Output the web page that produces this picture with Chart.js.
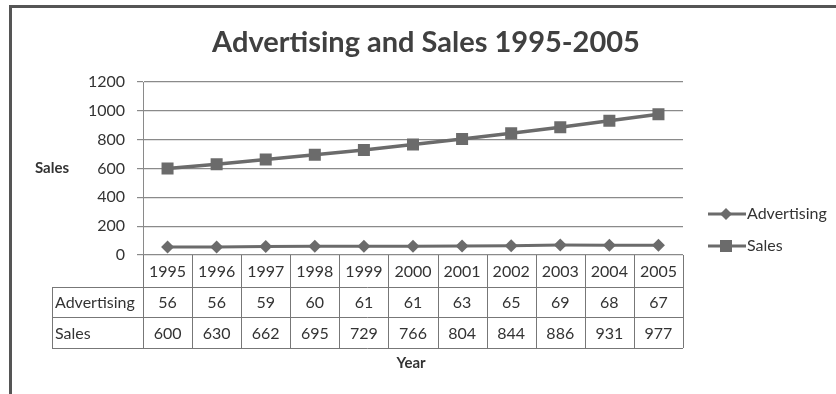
<!DOCTYPE html>
<html lang="en">
<head>
  <meta charset="utf-8"/>
  <title>Advertising and Sales 1995-2005</title>
  <script src="https://cdn.jsdelivr.net/npm/chart.js@4.4.1/dist/chart.umd.min.js"></script>
  <style>
    html, body { margin: 0; padding: 0; background: #fff; }
    #wrap { position: relative; width: 836px; height: 394px; }
  </style>
</head>
<body>
<div id="wrap">
  <canvas id="chart" width="836" height="394"></canvas>
</div>

<script>
const years = ["1995", "1996", "1997", "1998", "1999", "2000", "2001", "2002", "2003", "2004", "2005"];
const advertising = [56, 56, 59, 60, 61, 61, 63, 65, 69, 68, 67];
const sales = [600, 630, 662, 695, 729, 766, 804, 844, 886, 931, 977];
const seriesNames = ["Advertising", "Sales"];
const chartTitle = "Advertising and Sales 1995-2005";

const FONT = "Lato, 'Open Sans', sans-serif";
const INK = "#333";
const LINE = "#6b6b6b";

// frame, titles, data table and legend drawn by hand
const extras = {
  id: "extras",
  afterDraw(chart) {
    const ctx = chart.ctx;
    const area = chart.chartArea;
    const x = chart.scales.x;
    const colW = (area.right - area.left) / years.length;
    const rowH = [32, 30, 31];
    const top = area.bottom;
    const labelLeft = 52;

    ctx.save();
    // outer frame
    ctx.strokeStyle = "#555";
    ctx.lineWidth = 3;
    ctx.beginPath();
    ctx.moveTo(10.5, 400);
    ctx.lineTo(10.5, 6.5);
    ctx.lineTo(840, 6.5);
    ctx.stroke();

    // chart title
    ctx.fillStyle = "#404040";
    ctx.font = "bold 29px " + FONT;
    ctx.textAlign = "center";
    ctx.textBaseline = "middle";
    ctx.fillText(chartTitle, 426, 43);

    // y axis title
    ctx.fillStyle = INK;
    ctx.font = "bold 15px " + FONT;
    ctx.fillText("Sales", 52, chart.scales.y.getPixelForValue(600));

    // data table
    const y1 = top + rowH[0];
    const y2 = y1 + rowH[1];
    const y3 = y2 + rowH[2];
    ctx.strokeStyle = "#777";
    ctx.lineWidth = 1;
    ctx.beginPath();
    [y1, y2, y3].forEach(yy => {
      ctx.moveTo(labelLeft, Math.round(yy) + 0.5);
      ctx.lineTo(area.right, Math.round(yy) + 0.5);
    });
    ctx.moveTo(labelLeft + 0.5, y1);
    ctx.lineTo(labelLeft + 0.5, y3);
    for (let i = 0; i <= years.length; i++) {
      const xx = Math.round(area.left + i * colW) + 0.5;
      ctx.moveTo(xx, top);
      ctx.lineTo(xx, y3);
    }
    ctx.stroke();

    ctx.font = "16px " + FONT;
    ctx.fillStyle = INK;
    ctx.textAlign = "center";
    years.forEach((yr, i) => {
      const cx = x.getPixelForValue(i);
      ctx.fillText(yr, cx, top + rowH[0] / 2 + 1);
      ctx.fillText(String(advertising[i]), cx, y1 + rowH[1] / 2 + 1);
      ctx.fillText(String(sales[i]), cx, y2 + rowH[2] / 2 + 1);
    });
    ctx.textAlign = "left";
    ctx.fillText(seriesNames[0], labelLeft + 3, y1 + rowH[1] / 2 + 1);
    ctx.fillText(seriesNames[1], labelLeft + 3, y2 + rowH[2] / 2 + 1);

    // x axis title
    ctx.font = "bold 15px " + FONT;
    ctx.textAlign = "center";
    ctx.fillText("Year", 411, y3 + 15);

    // legend
    const legendY = [214, 246];
    const styles = ["rectRot", "rect"];
    const radii = [6, 8.5];
    legendY.forEach((ly, i) => {
      ctx.strokeStyle = LINE;
      ctx.lineWidth = 3;
      ctx.beginPath();
      ctx.moveTo(708, ly);
      ctx.lineTo(746, ly);
      ctx.stroke();
      ctx.fillStyle = LINE;
      Chart.helpers.drawPoint(ctx, { pointStyle: styles[i], radius: radii[i], borderWidth: 0 }, 726, ly);
      ctx.fillStyle = INK;
      ctx.font = "16px " + FONT;
      ctx.textAlign = "left";
      ctx.fillText(seriesNames[i], 747, ly);
    });
    ctx.restore();
  }
};

new Chart(document.getElementById("chart"), {
  type: "line",
  data: {
    labels: years,
    datasets: [
      {
        label: seriesNames[0],
        data: advertising,
        borderColor: LINE,
        backgroundColor: LINE,
        borderWidth: 3,
        pointStyle: "rectRot",
        pointRadius: 6.5,
        pointBorderWidth: 0
      },
      {
        label: seriesNames[1],
        data: sales,
        borderColor: LINE,
        backgroundColor: LINE,
        borderWidth: 3.5,
        pointStyle: "rect",
        pointRadius: 8.5,
        pointBorderWidth: 0
      }
    ]
  },
  options: {
    responsive: false,
    animation: false,
    layout: { padding: { left: 0, right: 153, top: 82, bottom: 139 } },
    plugins: {
      legend: { display: false },
      tooltip: { enabled: false },
      title: { display: false }
    },
    scales: {
      x: {
        display: false,
        offset: true
      },
      y: {
        min: 0,
        max: 1200,
        afterFit(scale) { scale.width = 143; },
        ticks: {
          stepSize: 200,
          color: INK,
          padding: 12,
          font: { family: FONT, size: 16 },
          callback: v => String(v)
        },
        grid: { color: "#8a8a8a", tickLength: 6, lineWidth: 1.2 },
        border: { color: "#8a8a8a" }
      }
    }
  },
  plugins: [extras]
});
</script>
</body>
</html>
